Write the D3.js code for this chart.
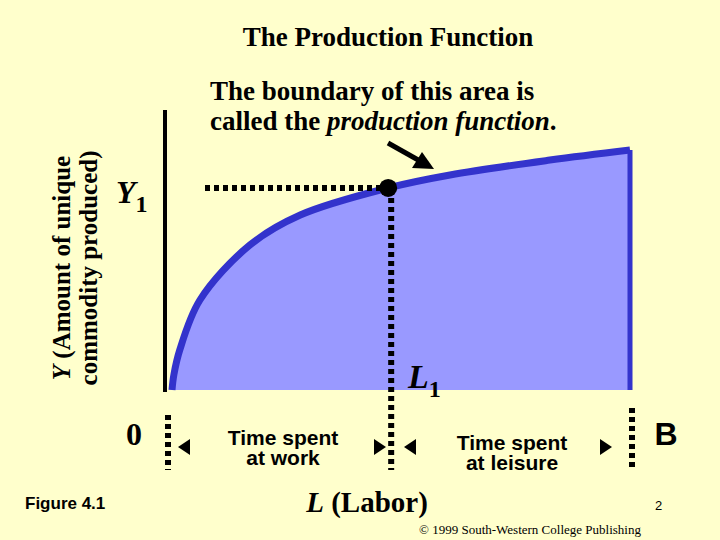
<!DOCTYPE html><html><head><meta charset="utf-8">
<script src="https://d3js.org/d3.v7.min.js"></script>
<style>body{margin:0;background:#FFFFCC}</style></head><body>
<script>
const laborValues=[0,0.4,1.7,6.1,17,28,47.2,60.7,82.5,100];
const outputValues=[0,6.25,16.7,37.5,60.4,72.9,84.2,89.6,95.8,100];
const pointL=47.2, pointY=84.2;
const W=720,H=540;
const svg=d3.select("body").append("svg").attr("width",W).attr("height",H);
svg.append("rect").attr("width",W).attr("height",H).attr("fill","#FFFFCC");
const x=d3.scaleLinear().domain([0,100]).range([172,630]);
const y=d3.scaleLinear().domain([0,100]).range([390,150]);
const pts=laborValues.map((l,i)=>[l,outputValues[i]]);
const area=d3.area().x(d=>x(d[0])).y0(y(0)).y1(d=>y(d[1])).curve(d3.curveCatmullRom);
svg.append("path").attr("d",area(pts)).attr("fill","#9999FF");
const line=d3.line().x(d=>x(d[0])).y(d=>y(d[1])).curve(d3.curveCatmullRom);
svg.append("path").attr("d",line(pts)).attr("fill","none").attr("stroke","#3333CC").attr("stroke-width",7);
svg.append("line").attr("x1",x(100)).attr("x2",x(100)).attr("y1",y(100)).attr("y2",y(0)).attr("stroke","#3333CC").attr("stroke-width",5);
svg.append("line").attr("x1",165).attr("x2",165).attr("y1",110).attr("y2",392).attr("stroke","#000").attr("stroke-width",4);
const dot=(x1,y1,x2,y2)=>svg.append("line").attr("x1",x1).attr("y1",y1).attr("x2",x2).attr("y2",y2).attr("stroke","#000").attr("stroke-width",6).attr("stroke-dasharray","5,4");
dot(205,y(pointY),x(pointL)-5,y(pointY));
dot(x(pointL)+3,y(pointY)+10,x(pointL)+3,470);
dot(168,415,168,470);
dot(632,408,632,470);
svg.append("circle").attr("cx",x(pointL)).attr("cy",y(pointY)).attr("r",9).attr("fill","#000");
svg.append("line").attr("x1",388).attr("y1",143).attr("x2",420).attr("y2",161).attr("stroke","#000").attr("stroke-width",5);
svg.append("path").attr("d","M434,169 L412,168 L422,152 Z").attr("fill","#000");
const tri=(xt,yc,dir)=>svg.append("path").attr("d",`M${xt},${yc} L${xt-dir*12},${yc-8} L${xt-dir*12},${yc+8} Z`).attr("fill","#000");
tri(178,447,-1);tri(386,447,1);tri(404,447,-1);tri(612,447,1);
const t=(tx,ty,s,o)=>{const e=svg.append("text").attr("x",tx).attr("y",ty).text(s);for(const k in o)e.attr(k,o[k]);return e;};
const serif="Liberation Serif",sans="Liberation Sans";
t(388,46,"The Production Function",{"font-family":serif,"font-size":27,"font-weight":"bold","text-anchor":"middle"});
t(210,100,"The boundary of this area is",{"font-family":serif,"font-size":27,"font-weight":"bold"});
const c=t(210,130,"called the ",{"font-family":serif,"font-size":27,"font-weight":"bold"});
c.append("tspan").attr("font-style","italic").text("production function");c.append("tspan").text(".");
const y1=t(116,203,"Y",{"font-family":serif,"font-size":32,"font-style":"italic","font-weight":"bold"});
y1.append("tspan").attr("dy",9).attr("font-style","normal").attr("font-size",24).text("1");
t(126,445,"0",{"font-family":serif,"font-size":32,"font-weight":"bold"});
const l1=t(408,388,"L",{"font-family":serif,"font-size":34,"font-style":"italic","font-weight":"bold"});
l1.append("tspan").attr("dy",9).attr("font-style","normal").attr("font-size",24).text("1");
t(666,445,"B",{"font-family":sans,"font-size":32,"font-weight":"bold","text-anchor":"middle"});
const yl=t(0,0,"",{"font-family":serif,"font-size":25,"font-weight":"bold","text-anchor":"middle","transform":"translate(70,268) rotate(-90)"});
yl.append("tspan").attr("font-style","italic").text("Y");yl.append("tspan").text(" (Amount of unique");
t(0,0,"commodity produced)",{"font-family":serif,"font-size":25,"font-weight":"bold","text-anchor":"middle","transform":"translate(97,268) rotate(-90)"});
t(283,445,"Time spent",{"font-family":sans,"font-size":21,"font-weight":"bold","text-anchor":"middle"});
t(283,465,"at work",{"font-family":sans,"font-size":21,"font-weight":"bold","text-anchor":"middle"});
t(512,450,"Time spent",{"font-family":sans,"font-size":21,"font-weight":"bold","text-anchor":"middle"});
t(512,470,"at leisure",{"font-family":sans,"font-size":21,"font-weight":"bold","text-anchor":"middle"});
const lb=t(367,512,"",{"font-family":serif,"font-size":29,"font-weight":"bold","text-anchor":"middle"});
lb.append("tspan").attr("font-style","italic").text("L");lb.append("tspan").text(" (Labor)");
t(25,509,"Figure 4.1",{"font-family":sans,"font-size":17,"font-weight":"bold"});
t(655,510,"2",{"font-family":sans,"font-size":13});
t(530,534,"© 1999 South-Western College Publishing",{"font-family":serif,"font-size":13,"text-anchor":"middle"});
</script></body></html>
